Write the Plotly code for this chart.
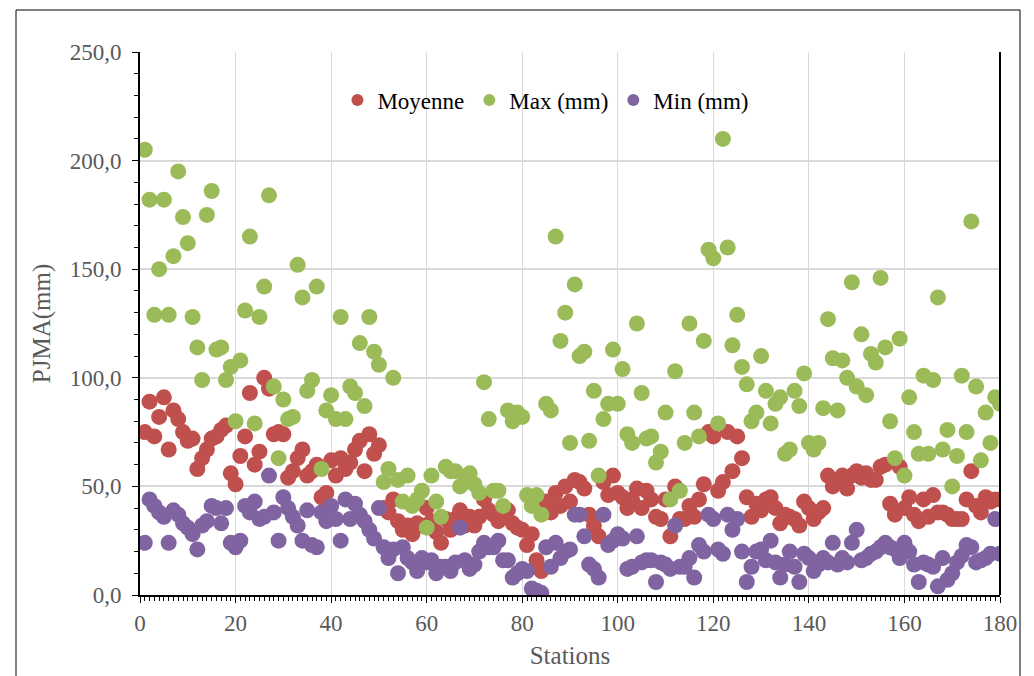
import plotly.graph_objects as go

stations = list(range(1, 181))

moyenne = [75, 89, 73, 82, 91, 67, 85, 81, 75, 71, 72, 58, 63, 67, 72, 73, 76, 78, 56, 51,
           64, 73, 93, 60, 66, 100, 95, 74, 75, 74, 54, 57, 63, 67, 55, 57, 60, 45, 47, 62,
           55, 63, 58, 61, 67, 71, 57, 74, 65, 69, 40, 38, 44, 34, 30, 32, 28, 33, 32, 40,
           34, 29, 24, 35, 30, 35, 39, 32, 36, 32, 36, 44, 39, 37, 34, 36, 39, 33, 31, 30,
           23, 28, 16, 11, 43, 38, 47, 41, 50, 43, 53, 52, 49, 37, 32, 27, 52, 46, 55, 47,
           45, 40, 44, 49, 40, 48, 44, 36, 35, 44, 27, 50, 35, 35, 41, 36, 44, 51, 75, 73,
           48, 52, 75, 57, 73, 63, 45, 36, 42, 39, 44, 45, 40, 33, 37, 36, 35, 32, 43, 40,
           35, 38, 40, 55, 50, 53, 55, 49, 55, 57, 54, 56, 53, 53, 59, 60, 42, 37, 59, 40,
           45, 37, 34, 44, 36, 46, 38, 38, 37, 35, 35, 35, 44, 57, 41, 38, 45, 43, 44, 44]

maximum = [205, 182, 129, 150, 182, 129, 156, 195, 174, 162, 128, 114, 99, 175, 186, 113, 114, 99, 105, 80,
           108, 131, 165, 79, 128, 142, 184, 96, 63, 90, 81, 82, 152, 137, 94, 99, 142, 58, 85, 92,
           81, 128, 81, 96, 93, 116, 87, 128, 112, 106, 52, 58, 100, 53, 43, 55, 41, 44, 48, 31,
           55, 43, 36, 59, 57, 57, 50, 52, 56, 51, 47, 98, 81, 48, 48, 41, 85, 80, 84, 82,
           46, 41, 46, 37, 88, 85, 165, 117, 130, 70, 143, 110, 112, 71, 94, 55, 81, 88, 113, 88,
           104, 74, 70, 125, 93, 72, 73, 61, 66, 84, 44, 103, 48, 70, 125, 84, 73, 117, 159, 155,
           79, 210, 160, 115, 129, 105, 97, 80, 84, 110, 94, 79, 88, 91, 65, 67, 94, 87, 102, 70,
           67, 70, 86, 127, 109, 85, 108, 100, 144, 96, 120, 92, 111, 107, 146, 114, 80, 63, 118, 55,
           91, 75, 65, 101, 65, 99, 137, 67, 76, 50, 64, 101, 75, 172, 96, 62, 84, 70, 91, 88]

minimum = [24, 44, 41, 38, 36, 24, 39, 37, 33, 31, 28, 21, 32, 34, 41, 40, 33, 40, 24, 22,
           25, 41, 38, 43, 35, 36, 55, 38, 25, 45, 40, 36, 32, 25, 39, 23, 22, 38, 34, 41,
           35, 25, 44, 35, 42, 37, 34, 30, 26, 40, 22, 17, 21, 10, 22, 17, 15, 11, 17, 15,
           16, 10, 13, 13, 11, 15, 31, 16, 12, 14, 20, 24, 22, 22, 25, 16, 16, 8, 10, 12,
           11, 3, 2, 1, 22, 13, 24, 17, 20, 21, 37, 37, 27, 14, 12, 8, 37, 23, 25, 28,
           26, 12, 13, 27, 15, 16, 16, 6, 15, 14, 12, 32, 13, 13, 17, 8, 23, 20, 37, 35,
           21, 19, 37, 30, 35, 20, 6, 13, 20, 21, 16, 25, 15, 8, 14, 20, 13, 6, 19, 17,
           11, 14, 17, 15, 24, 14, 17, 15, 24, 30, 16, 17, 19, 20, 22, 24, 22, 21, 17, 24,
           20, 14, 6, 15, 14, 13, 4, 17, 7, 10, 15, 18, 23, 22, 15, 16, 17, 19, 35, 19]

series_names = ["Moyenne", "Max (mm)", "Min (mm)"]
series_colors = ["#C0504D", "#9BBB59", "#8064A2"]

y_tick_vals = [0, 50, 100, 150, 200, 250]
y_tick_text = ["0,0", "50,0", "100,0", "150,0", "200,0", "250,0"]
x_tick_vals = [0, 20, 40, 60, 80, 100, 120, 140, 160, 180]

FONT = "Liberation Serif, Times New Roman, serif"

fig = go.Figure()
for name, vals, col in zip(series_names, [moyenne, maximum, minimum], series_colors):
    fig.add_trace(go.Scatter(
        x=stations, y=vals, mode="markers", name=name,
        marker=dict(color=col, size=16, line=dict(width=0)),
    ))

# page body has an 8px margin, so the figure is sized/offset accordingly
W, H = 1026, 668
L, R, T, B = 132, 34, 44, 81
PW, PH = W - L - R, H - T - B

fig.update_layout(
    width=W, height=H,
    margin=dict(l=L, r=R, t=T, b=B),
    paper_bgcolor="white", plot_bgcolor="white",
    font=dict(family=FONT, size=24, color="#595959"),
    showlegend=True,
    legend=dict(orientation="h", x=0.472, y=(587 - 92) / PH, xanchor="center", yanchor="middle",
                font=dict(family=FONT, size=23, color="black"),
                bgcolor="rgba(255,255,255,0)", itemsizing="constant", itemwidth=30),
    xaxis=dict(
        range=[0, 180], tickvals=x_tick_vals, showgrid=True, gridcolor="#D9D9D9", gridwidth=1,
        showline=True, linecolor="black", linewidth=2, ticks="outside", ticklen=6,
        tickcolor="black", minor=dict(dtick=1, ticks="outside", ticklen=4, tickcolor="black", showgrid=False),
        tickfont=dict(family=FONT, size=23, color="#595959"), zeroline=False,
        title=dict(text="Stations", font=dict(family=FONT, size=25, color="#595959"), standoff=12),
    ),
    yaxis=dict(
        range=[0, 250], tickvals=y_tick_vals, ticktext=y_tick_text, showgrid=True,
        gridcolor="#D9D9D9", gridwidth=1.5, showline=True, linecolor="black", linewidth=2,
        ticks="outside", ticklen=6, tickcolor="black", ticklabelstandoff=6,
        minor=dict(dtick=10, ticks="outside", ticklen=4, tickcolor="black", showgrid=False),
        tickfont=dict(family=FONT, size=23, color="#595959"), zeroline=False,
        title=dict(text="PJMA(mm)", font=dict(family=FONT, size=25, color="#595959"), standoff=12),
    ),
)

# right border of plot area
fig.add_shape(type="line", xref="paper", yref="paper", x0=1, x1=1, y0=0, y1=1,
              line=dict(color="black", width=2))
# chart outer frame
fig.add_shape(type="rect", xref="paper", yref="paper",
              x0=(8 - L) / PW, x1=(1012 - L) / PW,
              y0=(T + PH - 700) / PH, y1=(T + PH - 2) / PH,
              line=dict(color="black", width=1), fillcolor="rgba(0,0,0,0)", layer="below")

fig.write_html("out.html")
